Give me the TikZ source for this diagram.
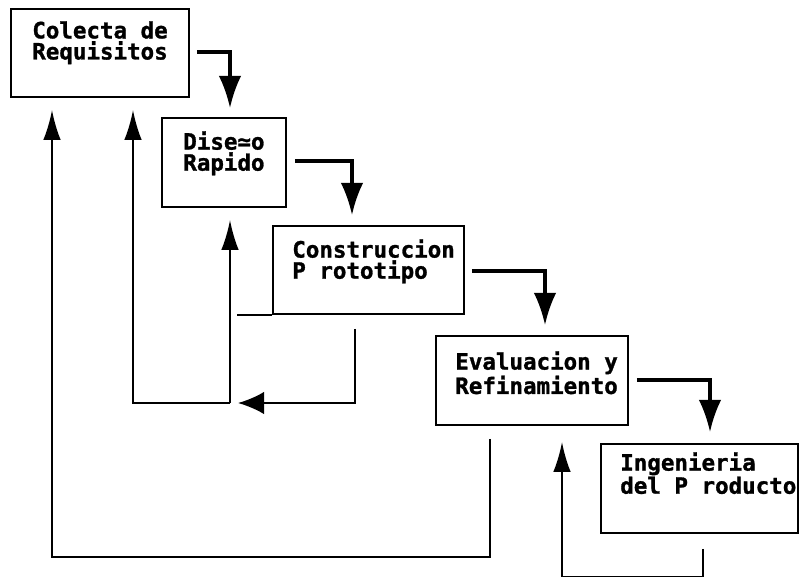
\documentclass[tikz,border=0pt]{standalone}
\usepackage{fontspec}
\newfontfamily\boxfont[BoldFeatures={FakeBold=1.2}]{DejaVu Sans Mono}
\usetikzlibrary{positioning,arrows.meta,calc}

\begin{document}
\begin{tikzpicture}[
    x=0.025cm, y=-0.025cm,
    box/.style={rectangle, draw=black, line width=1.4pt, anchor=north west, inner sep=0pt},
    boxsize/.style 2 args={minimum width=#1*0.025cm, minimum height=#2*0.025cm},
    txt/.style={anchor=north west, inner sep=0pt, align=left, font=\boxfont\bfseries\fontsize{16}{15}\selectfont},
    flow/.style={-{Latex[length=8mm, width=5.6mm]}, line width=2.2pt},
    back/.style={-{Latex[length=7.5mm, width=4.4mm]}, line width=1.5pt},
]
    \useasboundingbox (0,0) rectangle (800,577);

    % Boxes
    \node[box, boxsize={178}{88}] (colecta) at (10,8) {};
    \node[box, boxsize={124}{89}] (diseno) at (161,117) {};
    \node[box, boxsize={191}{88}] (construccion) at (272,225) {};
    \node[box, boxsize={192}{89}] (evaluacion) at (435,335) {};
    \node[box, boxsize={197}{89}] (ingenieria) at (600,443) {};
    \draw[line width=1.4pt] (construccion.south west) -- ++(-35,0);

    % Labels
    \node[txt] (colectaT) at ($(colecta.north west)+(22,13)$) {Colecta de\\Requisitos};
    \node[txt] (disenoT) at ($(diseno.north west)+(22,14)$) {Dise≃o\\Rapido};
    \node[txt] (construccionT) at ($(construccion.north west)+(20,14)$) {Construccion\\P rototipo};
    \node[txt] (evaluacionT) at ($(evaluacion.north west)+(20,16)$) {Evaluacion y\\Refinamiento};
    \node[txt] (ingenieriaT) at ($(ingenieria.north west)+(20,9)$) {Ingenieria\\del P roducto};

    % Main flow
    \draw[flow] ($(colecta.north east)+(7,44)$) -| ($(diseno.north west)+(69,-9)$);
    \draw[flow] ($(diseno.north east)+(8,44)$) -| ($(construccion.north west)+(80,-10)$);
    \draw[flow] ($(construccion.north east)+(7,46)$) -| ($(evaluacion.north west)+(110,-10)$);
    \draw[flow] ($(evaluacion.north east)+(8,45)$) -| ($(ingenieria.north west)+(110,-11)$);

    % Feedback
    \coordinate (fork) at (230,403);
    \draw[back, -{Latex[length=6.5mm, width=5.6mm]}] ($(construccion.south west)+(83,14)$) |- ([xshift=8*0.025cm]fork);
    \draw[back] (fork) -- ($(diseno.south west)+(69,12)$);
    \draw[back] (fork) -| ($(colecta.south west)+(123,12)$);
    \draw[back] ($(evaluacion.south west)+(55,13)$) -- ++(0,118) -| ($(colecta.south west)+(42,12)$);
    \draw[back] ($(ingenieria.south west)+(103,15)$) -- ++(0,28) -| ($(evaluacion.south west)+(127,16)$);
\end{tikzpicture}
\end{document}
